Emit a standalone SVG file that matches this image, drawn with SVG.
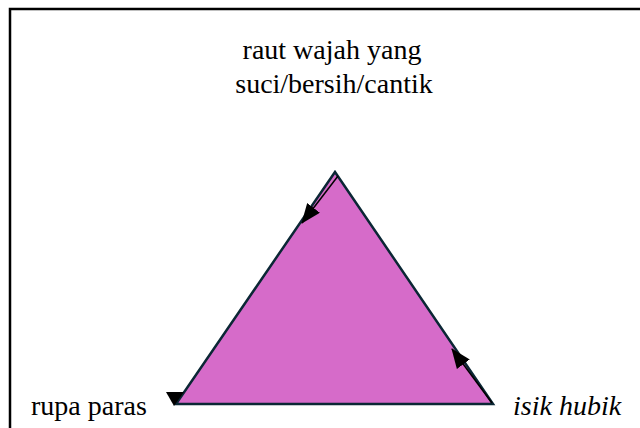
<svg xmlns="http://www.w3.org/2000/svg" width="640" height="428" viewBox="0 0 640 428">
  <defs>
    <style>
      text { font-family: 'Liberation Serif', 'Times New Roman', Tinos, 'DejaVu Serif', serif; font-size: 28px; fill: #000; }
      .it { font-style: italic; }
      .tri { fill: #D66BC9; stroke: #0B2735; stroke-width: 2.5; stroke-linejoin: miter; }
      .con { stroke: #000; stroke-width: 1.5; fill: none; }
    </style>
    <marker id="ah" markerUnits="userSpaceOnUse" markerWidth="20" markerHeight="16" refX="19" refY="8" orient="auto">
      <path d="M0,0 L20,8 L0,16 z" fill="#000"/>
    </marker>
  </defs>
  <rect x="0" y="0" width="640" height="428" fill="#fff"/>
  <rect x="10" y="9" width="700" height="500" fill="none" stroke="#000" stroke-width="2.5"/>
  <g id="triangle">
    <polygon class="tri" points="335,172 176,404 493,404"/>
  </g>
  <g id="connectors">
    <line class="con" x1="338" y1="176" x2="302" y2="223" marker-end="url(#ah)"/>
    <line class="con" x1="492" y1="403" x2="452" y2="349" marker-end="url(#ah)"/>
    <polygon points="166,392 184,392 174,406" fill="#000"/>
  </g>
  <g id="node-top">
    <text font-family="Liberation Serif, serif" x="332" y="59" text-anchor="middle">raut wajah yang</text>
    <text font-family="Liberation Serif, serif" x="334" y="93" text-anchor="middle">suci/bersih/cantik</text>
  </g>
  <g id="node-left">
    <text font-family="Liberation Serif, serif" x="31" y="415">rupa paras</text>
  </g>
  <g id="node-right">
    <text font-family="Liberation Serif, serif" class="it" x="513" y="415">isik hubik</text>
  </g>
</svg>
